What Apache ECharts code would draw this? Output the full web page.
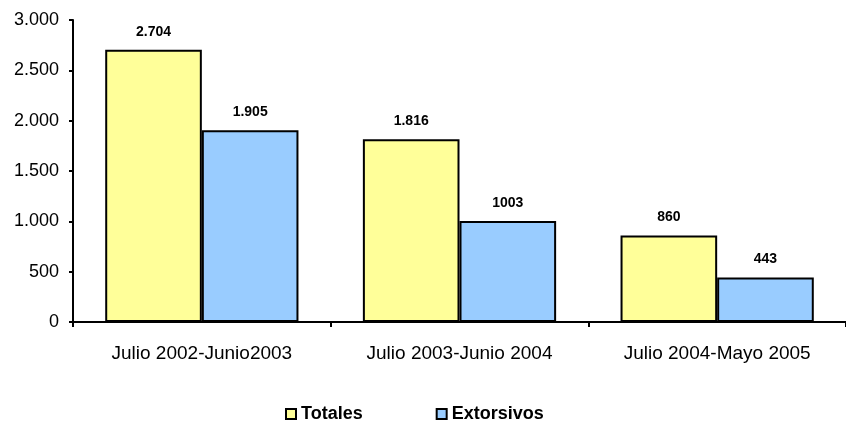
<!DOCTYPE html>
<html>
<head>
<meta charset="utf-8">
<script src="https://cdn.jsdelivr.net/npm/echarts@6/dist/echarts.min.js"></script>
<style>
  html, body { margin: 0; padding: 0; background: #fff; overflow: hidden; }
  #chart { width: 846px; height: 421px; }
</style>
</head>
<body>
<div id="chart"></div>
<script>
// Periods and counts per period
const categories = ['Julio 2002-Junio2003', 'Julio 2003-Junio 2004', 'Julio 2004-Mayo 2005'];
const totales = [2704, 1816, 860];
const extorsivos = [1905, 1003, 443];
const totalesLabels = ['2.704', '1.816', '860'];
const extorsivosLabels = ['1.905', '1003', '443'];
const yTicks = [0, 500, 1000, 1500, 2000, 2500, 3000];

const FONT = 'Liberation Sans, Arial, sans-serif';
const fmtThousands = v => String(v).replace(/\B(?=(\d{3})+(?!\d))/g, '.');

const chart = echarts.init(document.getElementById('chart'), null, { renderer: 'canvas' });

const labelStyle = (texts) => ({
  show: true,
  position: 'top',
  distance: 11,
  color: '#000',
  fontFamily: FONT,
  fontWeight: 'bold',
  fontSize: 14,
  formatter: p => texts[p.dataIndex]
});

chart.setOption({
  animation: false,
  backgroundColor: '#fff',
  // plot runs past the right edge so the last category is clipped
  grid: { left: 73, width: 782, top: 20, height: 302, containLabel: false },
  legend: {
    left: 280,
    top: 400,
    itemWidth: 10,
    itemHeight: 10,
    itemGap: 73,
    icon: 'rect',
    textStyle: {
      fontFamily: FONT,
      fontWeight: 'bold',
      fontSize: 18,
      color: '#000'
    },
    data: ['Totales', 'Extorsivos']
  },
  xAxis: {
    type: 'category',
    data: categories,
    axisLine: { lineStyle: { color: '#000', width: 2 } },
    axisTick: { show: true, length: 5, lineStyle: { color: '#000', width: 2 } },
    axisLabel: {
      margin: 22,
      color: '#000',
      fontFamily: FONT,
      fontSize: 19
    }
  },
  yAxis: {
    type: 'value',
    min: yTicks[0],
    max: yTicks[yTicks.length - 1],
    interval: 500,
    splitLine: { show: false },
    axisLine: { show: true, lineStyle: { color: '#000', width: 2 } },
    axisTick: { show: true, length: 4, lineStyle: { color: '#000', width: 2 } },
    axisLabel: {
      margin: 14,
      color: '#000',
      fontFamily: FONT,
      fontSize: 18,
      formatter: v => fmtThousands(v)
    }
  },
  series: [
    {
      name: 'Totales',
      type: 'bar',
      data: totales,
      barGap: '0%',
      barCategoryGap: '25%',
      itemStyle: { color: '#FFFF99', borderColor: '#000', borderWidth: 2 },
      label: labelStyle(totalesLabels)
    },
    {
      name: 'Extorsivos',
      type: 'bar',
      data: extorsivos,
      barGap: '0%',
      barCategoryGap: '25%',
      itemStyle: { color: '#99CCFF', borderColor: '#000', borderWidth: 2 },
      label: labelStyle(extorsivosLabels)
    }
  ]
});
</script>
</body>
</html>
